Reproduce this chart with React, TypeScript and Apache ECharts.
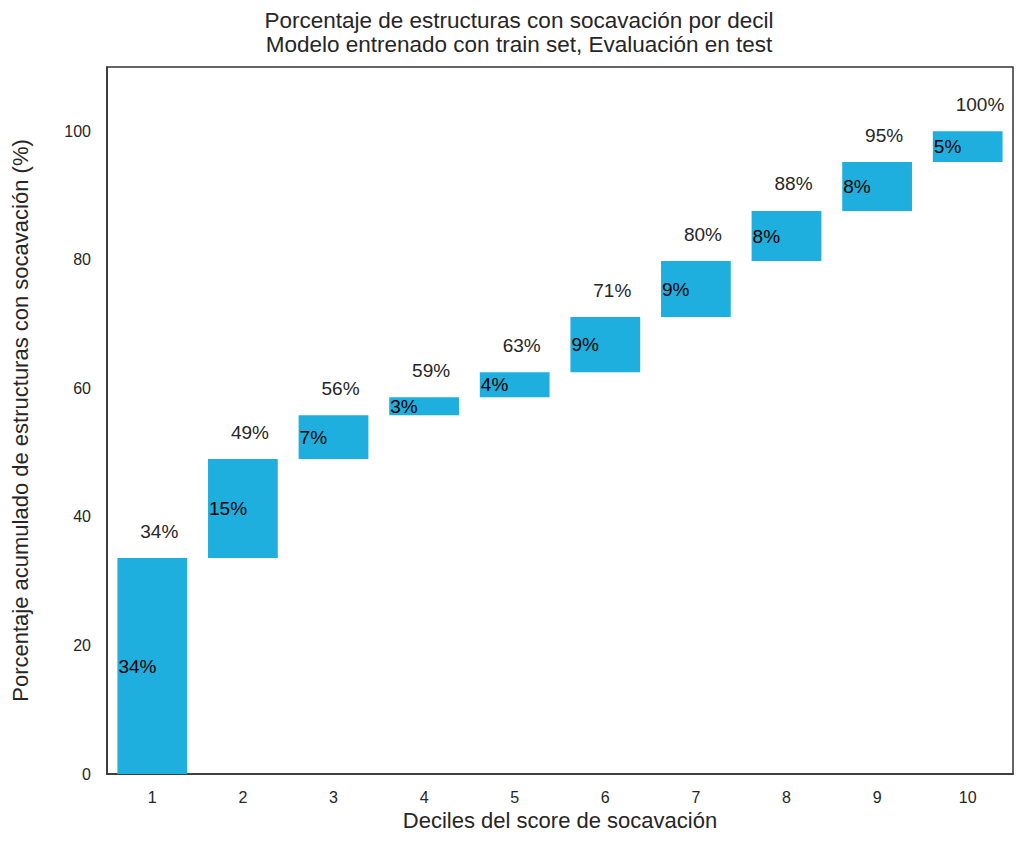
import React, { useEffect, useRef } from "react";
import * as echarts from "echarts";

const deciles = ["1", "2", "3", "4", "5", "6", "7", "8", "9", "10"];
const cumulative = [33.6, 49.0, 55.8, 58.6, 62.5, 71.1, 79.8, 87.6, 95.2, 100.0];
const incrementLabels = ["34%", "15%", "7%", "3%", "4%", "9%", "9%", "8%", "8%", "5%"];
const cumulativeLabels = ["34%", "49%", "56%", "59%", "63%", "71%", "80%", "88%", "95%", "100%"];

const FONT = "'Liberation Sans', Arial, Helvetica, sans-serif";
const TXT = "#262626";
const BAR = "#1FAFDF";

export default function App() {
  const ref = useRef<HTMLDivElement>(null);
  useEffect(() => {
    if (!ref.current) return;
    const chart = echarts.init(ref.current, undefined, { renderer: "svg" });
    const base = cumulative.map((_, i) => (i === 0 ? 0 : cumulative[i - 1]));
    const inc = cumulative.map((v, i) => +(v - base[i]).toFixed(2));
    chart.setOption({
      animation: false,
      backgroundColor: "#ffffff",
      textStyle: { fontFamily: FONT },
      title: {
        text: "Porcentaje de estructuras con socavación por decil\nModelo entrenado con train set, Evaluación en test",
        left: 519,
        top: 9,
        padding: 0,
        textAlign: "center",
        textStyle: { fontFamily: FONT, fontSize: 22.5, fontWeight: "normal", color: TXT, lineHeight: 23.5 },
      },
      grid: {
        left: 107,
        right: 11,
        top: 67,
        bottom: 69,
        outerBoundsMode: "none",
        containLabel: false,
        show: true,
        borderColor: "#333333",
        borderWidth: 1.5,
        backgroundColor: "transparent",
      },
      xAxis: {
        type: "category",
        data: deciles,
        name: "Deciles del score de socavación",
        nameLocation: "middle",
        nameGap: 34,
        nameTextStyle: { fontFamily: FONT, fontSize: 22, color: TXT },
        axisLine: { show: true, lineStyle: { color: "#333333", width: 1.5 } },
        axisTick: { show: false },
        axisLabel: { fontFamily: FONT, fontSize: 16, color: TXT, margin: 15 },
        splitLine: { show: false },
      },
      yAxis: {
        type: "value",
        min: 0,
        max: 110,
        interval: 20,
        name: "Porcentaje acumulado de estructuras con socavación (%)",
        nameLocation: "middle",
        nameGap: 76,
        nameTextStyle: { fontFamily: FONT, fontSize: 22, color: TXT },
        axisLine: { show: true, lineStyle: { color: "#333333", width: 1.5 } },
        axisTick: { show: false },
        axisLabel: {
          fontFamily: FONT,
          fontSize: 16,
          color: TXT,
          margin: 16,
          formatter: (v: number) => (v > 100 ? "" : String(v)),
        },
        splitLine: { show: false },
      },
      series: [
        {
          type: "bar",
          stack: "w",
          data: base,
          barWidth: "77%",
          itemStyle: { color: "transparent" },
          silent: true,
        },
        {
          type: "bar",
          stack: "w",
          data: inc,
          barWidth: "77%",
          itemStyle: { color: BAR },
          label: {
            show: true,
            position: "insideLeft",
            distance: 1,
            fontFamily: FONT,
            fontSize: 19,
            color: "#000000",
            formatter: (p: any) => incrementLabels[p.dataIndex],
          },
        },
        {
          type: "scatter",
          data: cumulative,
          symbolSize: 1,
          itemStyle: { color: "transparent", opacity: 1 },
          label: {
            show: true,
            position: "top",
            distance: 17,
            align: "left",
            offset: [-12, 0],
            fontFamily: FONT,
            fontSize: 19,
            color: TXT,
            opacity: 1,
            formatter: (p: any) => cumulativeLabels[p.dataIndex],
          },
        },
      ],
    });
    return () => chart.dispose();
  }, []);
  return (
    <div
      ref={ref}
      style={{ position: "absolute", left: 0, top: 0, width: 1024, height: 843 }}
    />
  );
}
